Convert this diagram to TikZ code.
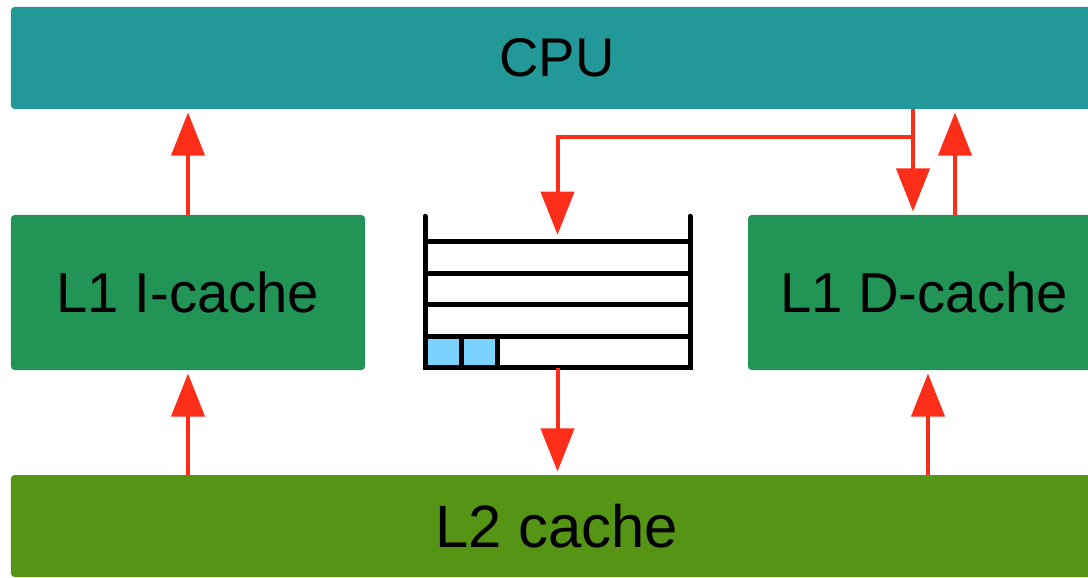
\documentclass[tikz,border=0pt]{standalone}
\usepackage{fontspec}
\setmainfont{Liberation Sans}
\usetikzlibrary{arrows.meta,positioning,calc}
\definecolor{cputeal}{RGB}{35,152,152}
\definecolor{lonegreen}{RGB}{34,148,86}
\definecolor{ltwogreen}{RGB}{85,148,20}
\definecolor{flowred}{RGB}{252,45,25}
\definecolor{slotblue}{RGB}{122,210,255}

\begin{document}
\begin{tikzpicture}[>={Triangle[length=0.86cm,width=0.66cm]},shorten >=2pt,
                    line width=0.08cm]
  \tikzstyle{level}=[rectangle,rounded corners=2pt,inner sep=0pt,outer sep=0pt,
                     text=black,font=\fontsize{32}{38}\selectfont]
  \tikzstyle{row}=[rectangle,draw=black,fill=white,line width=0.1cm,
                   minimum width=5.3cm,minimum height=0.63cm,inner sep=0pt,
                   outer sep=0pt]
  \tikzstyle{slot}=[row,fill=slotblue,minimum width=0.72cm]
  \tikzstyle{flow}=[->,draw=flowred]

  \useasboundingbox (0,0) rectangle (21.76,11.54);
  \clip (0,0) rectangle (21.76,11.54);

  \node[level,fill=cputeal,minimum width=21.84cm,minimum height=2.04cm,
        font=\fontsize{31}{37}\selectfont] (cpu) at (11.14,10.38) {CPU};
  \node[level,fill=lonegreen,minimum width=7.08cm,minimum height=3.1cm]
        (icache) at (3.76,5.69) {L1 I-cache};
  \node[level,fill=lonegreen,minimum width=7.04cm,minimum height=3.1cm]
        (dcache) at (18.48,5.69) {L1 D-cache};
  \node[level,fill=ltwogreen,minimum width=21.84cm,minimum height=2.04cm,
        font=\fontsize{34}{40}\selectfont] (l2) at (11.14,1.02) {L2 cache};

  % buffer
  \node[row] (r1) at (11.15,6.39) {};
  \node[row] (r2) [below=0 of r1] {};
  \node[row] (r3) [below=0 of r2] {};
  \node[row] (r4) [below=0 of r3] {};
  \node[slot,anchor=north west] (s1) at (r4.north west) {};
  \node[slot] (s2) [right=0 of s1] {};
  \draw[line width=0.1cm,line cap=round] (r1.north west) -- ++(0,0.58);
  \draw[line width=0.1cm,line cap=round] (r1.north east) -- ++(0,0.58);

  \coordinate[left=0.22cm of dcache.north] (din);
  \coordinate[right=0.62cm of dcache.north] (dout);
  \coordinate[right=0.08cm of dcache.south] (dfill);
  \coordinate (split) at ($(cpu.south -| din)+(0,-0.56)$);

  \draw[flow] (icache.north) -- (icache.north |- cpu.south);
  \draw[flow] (l2.north -| icache) -- (icache.south);
  \draw[flow] (r4.south) -- (r4.south |- l2.north);
  \draw[flow] (cpu.south -| din) -- (din);
  \draw[flow,shorten >=0.14cm] (split) -| (r1.north);
  \draw[flow] (dout) -- (dout |- cpu.south);
  \draw[flow] (dfill |- l2.north) -- (dfill);
\end{tikzpicture}
\end{document}
